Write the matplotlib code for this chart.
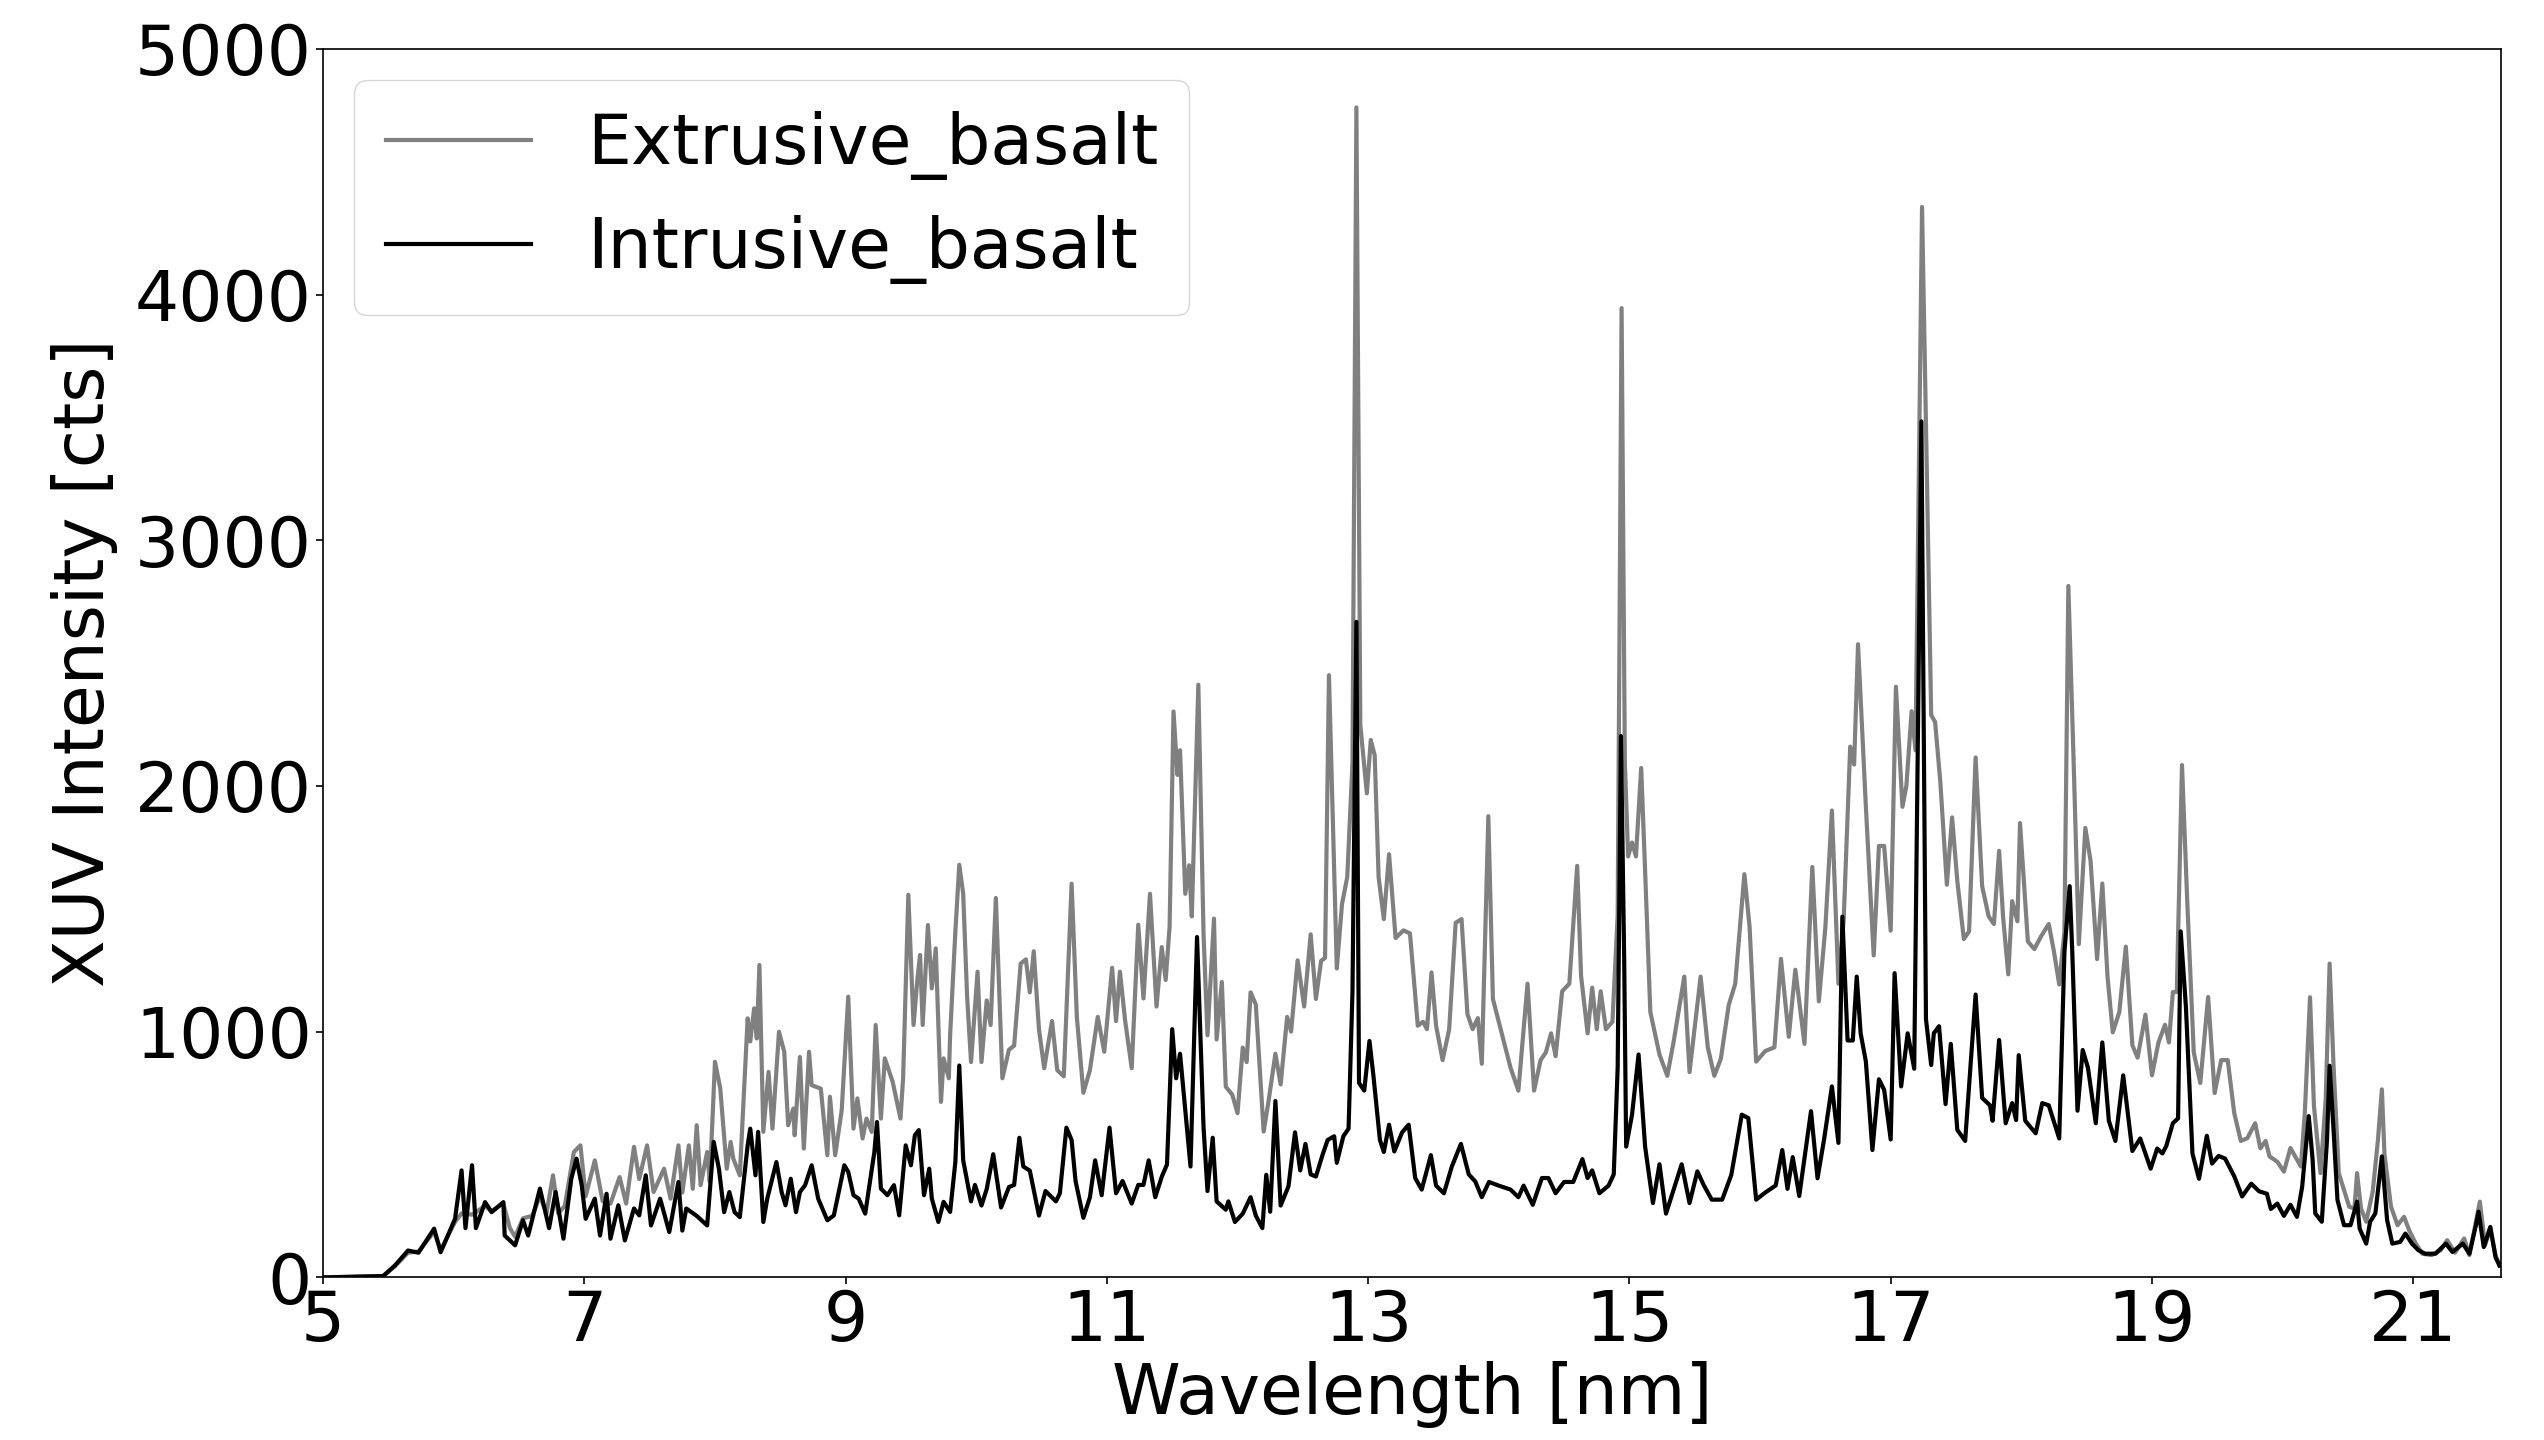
import numpy as np
import matplotlib
matplotlib.use("Agg")
import matplotlib.pyplot as plt

# Extrusive basalt spectrum
ext_nm = [5.00, 5.05, 5.46, 5.55, 5.65, 5.73, 5.85, 5.90, 6.01, 6.06, 6.14, 6.24, 6.29, 6.38, 6.43, 6.47,
          6.53, 6.60, 6.66, 6.71, 6.76, 6.80, 6.85, 6.92, 6.97, 7.01, 7.08, 7.14, 7.20, 7.27, 7.32, 7.38,
          7.42, 7.48, 7.53, 7.61, 7.66, 7.72, 7.75, 7.80, 7.83, 7.86, 7.89, 7.94, 7.96, 8.00, 8.04, 8.09,
          8.12, 8.14, 8.19, 8.25, 8.27, 8.30, 8.32, 8.34, 8.37, 8.41, 8.44, 8.49, 8.53, 8.56, 8.60, 8.61,
          8.65, 8.68, 8.72, 8.74, 8.81, 8.86, 8.88, 8.92, 8.97, 9.02, 9.06, 9.09, 9.13, 9.16, 9.20, 9.23,
          9.27, 9.30, 9.36, 9.42, 9.44, 9.48, 9.52, 9.55, 9.57, 9.59, 9.63, 9.66, 9.69, 9.73, 9.75, 9.79,
          9.80, 9.84, 9.87, 9.90, 9.93, 9.96, 10.01, 10.04, 10.08, 10.11, 10.15, 10.20, 10.25, 10.29,
          10.34, 10.38, 10.41, 10.44, 10.48, 10.52, 10.58, 10.62, 10.67, 10.73, 10.77, 10.82, 10.87,
          10.93, 10.98, 11.04, 11.07, 11.10, 11.14, 11.19, 11.24, 11.28, 11.33, 11.38, 11.42, 11.45,
          11.48, 11.51, 11.54, 11.56, 11.60, 11.63, 11.65, 11.70, 11.74, 11.77, 11.82, 11.84, 11.88,
          11.91, 11.96, 12.00, 12.04, 12.07, 12.10, 12.14, 12.20, 12.24, 12.29, 12.33, 12.38, 12.41,
          12.46, 12.51, 12.56, 12.60, 12.64, 12.67, 12.70, 12.76, 12.80, 12.84, 12.88, 12.91, 12.94,
          12.99, 13.02, 13.05, 13.08, 13.12, 13.16, 13.21, 13.27, 13.32, 13.38, 13.42, 13.45, 13.485,
          13.52, 13.57, 13.62, 13.67, 13.715, 13.76, 13.80, 13.84, 13.87, 13.92, 13.955, 14.03, 14.09,
          14.15, 14.22, 14.27, 14.32, 14.36, 14.40, 14.435, 14.485, 14.54, 14.60, 14.63, 14.68, 14.715,
          14.75, 14.78, 14.82, 14.87, 14.91, 14.94, 14.965, 14.99, 15.02, 15.05, 15.09, 15.12, 15.16,
          15.23, 15.29, 15.34, 15.42, 15.46, 15.545, 15.60, 15.65, 15.70, 15.76, 15.81, 15.88, 15.92,
          15.97, 16.04, 16.11, 16.16, 16.22, 16.27, 16.34, 16.40, 16.45, 16.50, 16.55, 16.60, 16.64,
          16.69, 16.72, 16.75, 16.81, 16.87, 16.91, 16.95, 17.00, 17.04, 17.09, 17.12, 17.16, 17.19,
          17.24, 17.31, 17.34, 17.38, 17.43, 17.47, 17.51, 17.56, 17.60, 17.65, 17.70, 17.75, 17.79,
          17.83, 17.86, 17.90, 17.93, 17.97, 17.99, 18.05, 18.10, 18.15, 18.21, 18.25, 18.29, 18.33,
          18.36, 18.40, 18.44, 18.49, 18.53, 18.58, 18.62, 18.66, 18.70, 18.75, 18.80, 18.85, 18.89,
          18.95, 19.00, 19.05, 19.10, 19.13, 19.16, 19.19, 19.23, 19.27, 19.32, 19.37, 19.43, 19.48,
          19.53, 19.58, 19.63, 19.68, 19.73, 19.79, 19.83, 19.87, 19.90, 19.96, 20.01, 20.06, 20.14,
          20.17, 20.21, 20.24, 20.29, 20.33, 20.36, 20.39, 20.43, 20.51, 20.55, 20.57, 20.60, 20.64,
          20.69, 20.73, 20.76, 20.78, 20.83, 20.88, 20.93, 20.97, 21.02, 21.07, 21.14, 21.21, 21.26,
          21.32, 21.39, 21.43, 21.48, 21.51, 21.55, 21.59, 21.63, 21.66]
ext_cts = [0, 0, 5, 45, 100, 105, 185, 110, 225, 260, 255, 290, 270, 300, 200, 165,
           240, 250, 330, 260, 415, 260, 290, 510, 537, 330, 476, 310, 300, 408, 300, 531,
           400, 537, 347, 442, 320, 537, 345, 537, 360, 619, 375, 510, 390, 877, 770, 442,
           551, 483, 415, 1054, 960, 1095, 972, 1271, 592, 836, 605, 999, 918, 619, 687, 578,
           897, 524, 918, 782, 768, 497, 735, 497, 680, 1142, 605, 728, 565, 646, 592, 1027,
           646, 891, 796, 646, 810, 1557, 1027, 1217, 1312, 1027, 1434, 1176, 1339, 714, 891, 810,
           986, 1407, 1679, 1561, 1143, 876, 1244, 876, 1127, 1027, 1544, 810, 926, 943,
           1277, 1294, 1160, 1327, 1010, 851, 1043, 843, 818, 1602, 1060, 751, 843,
           1060, 918, 1260, 1043, 1244, 1043, 851, 1435, 1135, 1561, 1102, 1344, 1210,
           1427, 2303, 2045, 2145, 1561, 1677, 1469, 2412, 1394, 985, 1460, 968, 1202,
           776, 743, 668, 935, 876, 1160, 1110, 593, 726, 910, 785, 1060, 1000,
           1290, 1102, 1396, 1133, 1288, 1300, 2451, 1257, 1520, 1629, 2094, 4762, 2249,
           1970, 2187, 2125, 1629, 1458, 1722, 1381, 1412, 1400, 1024, 1040, 1010, 1241,
           1024, 884, 1009, 1443, 1458, 1071, 1010, 1055, 869, 1877, 1133, 978, 853,
           760, 1195, 760, 884, 915, 993, 900, 1164, 1195, 1675, 1226, 993, 1179,
           1010, 1164, 1010, 1040, 1474, 3945, 2094, 1713, 1770, 1713, 2073, 1656, 1080,
           907, 820, 964, 1224, 835, 1224, 936, 820, 890, 1108, 1195, 1641, 1425,
           878, 921, 936, 1296, 979, 1252, 950, 1670, 1123, 1425, 1900, 1195, 1454,
           2160, 2087, 2577, 1915, 1310, 1756, 1756, 1411, 2404, 1915, 2000, 2304, 2145,
           4357, 2289, 2260, 2016, 1598, 1872, 1613, 1377, 1408, 2116, 1592, 1469, 1438,
           1736, 1469, 1233, 1531, 1449, 1849, 1367, 1336, 1387, 1438, 1325, 1192, 1408,
           2814, 2106, 1356, 1829, 1695, 1295, 1603, 1223, 997, 1079, 1346, 945, 894,
           1069, 822, 956, 1028, 956, 1161, 1161, 2085, 1531, 915, 791, 1141, 750,
           884, 884, 668, 555, 566, 627, 525, 555, 492, 470, 430, 526, 451,
           669, 1140, 697, 424, 724, 1277, 861, 424, 287, 280, 424, 280, 226,
           349, 560, 765, 500, 287, 212, 246, 190, 137, 96, 90, 110, 151,
           100, 158, 90, 226, 308, 130, 198, 90, 48]

# Intrusive basalt spectrum
int_nm = [5.00, 5.05, 5.46, 5.55, 5.65, 5.73, 5.85, 5.90, 6.01, 6.06, 6.09, 6.14, 6.17, 6.24, 6.29, 6.38,
          6.39, 6.47, 6.53, 6.57, 6.66, 6.73, 6.78, 6.84, 6.90, 6.94, 6.98, 7.01, 7.08, 7.12, 7.17, 7.20,
          7.26, 7.31, 7.38, 7.42, 7.47, 7.51, 7.58, 7.65, 7.72, 7.75, 7.78, 7.86, 7.94, 7.99, 8.03, 8.07,
          8.11, 8.15, 8.19, 8.25, 8.27, 8.31, 8.33, 8.37, 8.40, 8.47, 8.51, 8.54, 8.58, 8.62, 8.65, 8.69,
          8.74, 8.79, 8.86, 8.91, 8.99, 9.02, 9.06, 9.10, 9.15, 9.22, 9.24, 9.27, 9.32, 9.37, 9.41, 9.46,
          9.50, 9.53, 9.56, 9.60, 9.64, 9.66, 9.71, 9.75, 9.80, 9.84, 9.87, 9.90, 9.96, 9.99, 10.04,
          10.08, 10.13, 10.19, 10.25, 10.29, 10.33, 10.36, 10.41, 10.48, 10.53, 10.61, 10.64, 10.69,
          10.73, 10.76, 10.82, 10.87, 10.91, 10.96, 11.02, 11.07, 11.12, 11.19, 11.24, 11.28, 11.32,
          11.37, 11.42, 11.46, 11.50, 11.53, 11.56, 11.64, 11.69, 11.74, 11.77, 11.81, 11.84, 11.91,
          11.93, 11.98, 12.04, 12.10, 12.14, 12.19, 12.22, 12.25, 12.29, 12.33, 12.39, 12.44, 12.48,
          12.52, 12.56, 12.60, 12.65, 12.69, 12.74, 12.76, 12.81, 12.85, 12.88, 12.91, 12.93, 12.97,
          13.01, 13.04, 13.09, 13.12, 13.16, 13.20, 13.26, 13.31, 13.36, 13.41, 13.48, 13.52, 13.58,
          13.64, 13.71, 13.77, 13.82, 13.87, 13.925, 14.00, 14.09, 14.15, 14.19, 14.26, 14.33, 14.38,
          14.435, 14.50, 14.57, 14.64, 14.68, 14.715, 14.77, 14.84, 14.88, 14.91, 14.935, 14.96,
          14.975, 15.02, 15.07, 15.12, 15.18, 15.23, 15.28, 15.34, 15.40, 15.46, 15.52, 15.57, 15.63,
          15.71, 15.78, 15.86, 15.91, 15.97, 16.04, 16.12, 16.17, 16.21, 16.25, 16.30, 16.39, 16.44,
          16.49, 16.55, 16.60, 16.63, 16.67, 16.71, 16.74, 16.77, 16.81, 16.86, 16.91, 16.95, 17.00,
          17.03, 17.08, 17.13, 17.18, 17.235, 17.27, 17.31, 17.33, 17.37, 17.42, 17.46, 17.51, 17.57,
          17.65, 17.70, 17.76, 17.78, 17.83, 17.88, 17.93, 17.96, 17.98, 18.03, 18.11, 18.16, 18.21,
          18.29, 18.33, 18.37, 18.39, 18.43, 18.47, 18.51, 18.57, 18.62, 18.67, 18.72, 18.78, 18.85,
          18.91, 18.99, 19.04, 19.08, 19.11, 19.16, 19.20, 19.22, 19.26, 19.31, 19.36, 19.42, 19.46,
          19.51, 19.56, 19.63, 19.69, 19.76, 19.82, 19.88, 19.91, 19.96, 20.01, 20.06, 20.11, 20.15,
          20.20, 20.23, 20.25, 20.30, 20.34, 20.36, 20.39, 20.42, 20.47, 20.52, 20.57, 20.59, 20.64,
          20.67, 20.71, 20.76, 20.80, 20.84, 20.90, 20.94, 20.99, 21.04, 21.09, 21.17, 21.25, 21.30,
          21.38, 21.43, 21.48, 21.50, 21.54, 21.59, 21.63, 21.66]
int_cts = [0, 0, 5, 48, 109, 100, 198, 102, 238, 435, 200, 456, 200, 306, 265, 306,
           170, 130, 232, 170, 361, 200, 347, 157, 401, 483, 374, 238, 320, 170, 340, 157,
           293, 150, 280, 252, 415, 211, 320, 184, 388, 190, 280, 250, 211, 551, 442, 265,
           347, 265, 245, 537, 605, 415, 592, 225, 320, 469, 347, 293, 401, 265, 347, 375,
           456, 320, 232, 252, 456, 429, 334, 320, 259, 510, 632, 361, 334, 375, 252, 537,
           456, 578, 599, 334, 442, 320, 225, 307, 266, 469, 862, 476, 309, 376, 292,
           359, 501, 284, 367, 376, 568, 451, 434, 251, 351, 309, 342, 609,
           559, 392, 242, 326, 476, 334, 609, 342, 392, 300, 376, 376, 476,
           326, 409, 459, 1010, 810, 910, 451, 1385, 609, 351, 568, 309, 275,
           309, 225, 259, 326, 251, 200, 417, 267, 718, 292, 370, 590, 435,
           543, 419, 410, 497, 559, 574, 466, 574, 605, 1164, 2668, 791, 760,
           962, 822, 559, 510, 621, 512, 590, 621, 404, 357, 497, 373, 342,
           450, 543, 419, 390, 326, 388, 373, 357, 326, 373, 295, 404, 404,
           342, 388, 388, 481, 404, 435, 342, 373, 419, 853, 2203, 1288,
           532, 662, 907, 532, 302, 460, 259, 360, 460, 302, 431, 374, 316,
           316, 417, 662, 648, 316, 345, 374, 518, 360, 489, 331, 676, 403,
           561, 777, 547, 1468, 964, 964, 1224, 993, 878, 518, 806, 763, 561,
           1238, 777, 993, 849, 3484, 1051, 864, 993, 1022, 705, 950, 600, 555,
           1151, 730, 700, 637, 966, 627, 709, 640, 904, 637, 586, 709, 700,
           565, 1325, 1592, 1325, 678, 925, 853, 627, 956, 637, 555, 822, 514,
           565, 442, 524, 504, 535, 627, 647, 1408, 1100, 504, 401, 576, 463,
           494, 483, 411, 329, 381, 350, 340, 278, 300, 250, 295, 246, 369,
           656, 478, 260, 226, 560, 861, 601, 315, 212, 212, 308, 198, 137,
           226, 260, 492, 233, 137, 144, 178, 137, 110, 96, 96, 137, 103,
           137, 96, 212, 267, 123, 205, 82, 48]

x_ticks = [5, 7, 9, 11, 13, 15, 17, 19, 21]
y_ticks = [0, 1000, 2000, 3000, 4000, 5000]

plt.rcParams["font.family"] = "DejaVu Sans"
fig = plt.figure(figsize=(25.44, 14.4), dpi=100)
ax = fig.add_axes([0.127, 0.113, 0.856, 0.853])

ax.plot(ext_nm, ext_cts, color="#808080", lw=3, label="Extrusive_basalt")
ax.plot(int_nm, int_cts, color="black", lw=3, label="Intrusive_basalt")

ax.set_xlim(5, 21.67)
ax.set_ylim(0, 5000)
ax.set_xticks(x_ticks)
ax.set_yticks(y_ticks)
ax.tick_params(labelsize=50, length=5, width=1.2, pad=3)
ax.set_xlabel("Wavelength [nm]", fontsize=50, labelpad=4)
ax.set_ylabel("XUV Intensity [cts]", fontsize=50, labelpad=12)
for s in ax.spines.values():
    s.set_linewidth(1.2)

ax.legend(loc="upper left", fontsize=50, handlelength=2.1, borderpad=0.45,
          labelspacing=0.5, handletextpad=0.8, borderaxespad=0.45)

fig.savefig("out.png", dpi=100)
